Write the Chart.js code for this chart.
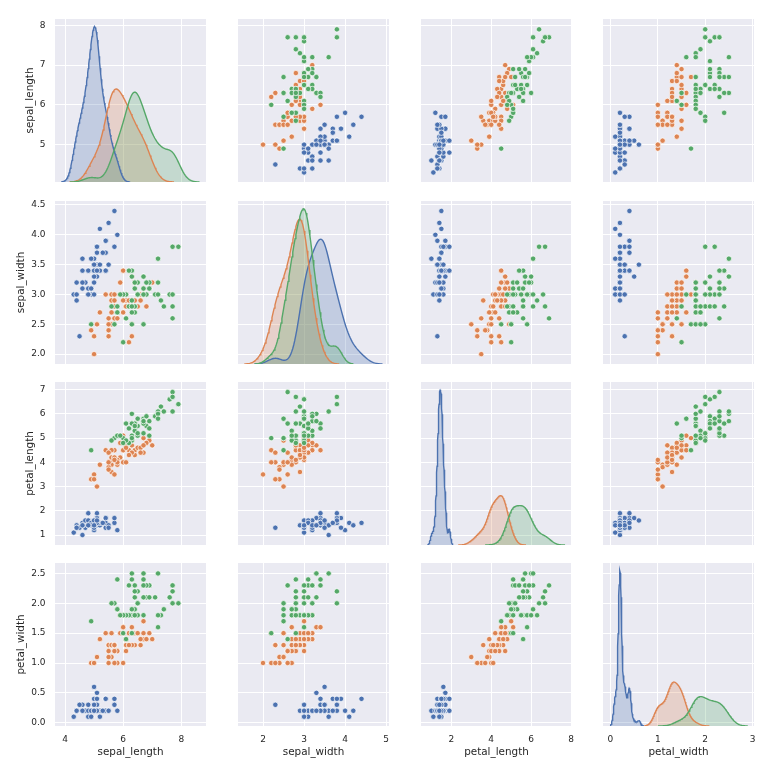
<!DOCTYPE html>
<html>
<head>
<meta charset="utf-8">
<script src="https://cdn.jsdelivr.net/npm/chart.js@4.4.1/dist/chart.umd.min.js"></script>
<style>
  body { margin: 0; background: #fff; }
  #fig { position: relative; width: 764px; height: 781px; overflow: hidden; background: #fff; }
  #fig canvas { position: absolute; }
</style>
</head>
<body>
<div id="fig"></div>
<script>
// iris measurements, one array per species and variable
const setosa_sepal_length = [5.1,4.9,4.7,4.6,5.0,5.4,4.6,5.0,4.4,4.9,5.4,4.8,4.8,4.3,5.8,5.7,5.4,5.1,5.7,5.1,5.4,5.1,4.6,5.1,4.8,5.0,5.0,5.2,5.2,4.7,4.8,5.4,5.2,5.5,4.9,5.0,5.5,4.9,4.4,5.1,5.0,4.5,4.4,5.0,5.1,4.8,5.1,4.6,5.3,5.0];
const setosa_sepal_width  = [3.5,3.0,3.2,3.1,3.6,3.9,3.4,3.4,2.9,3.1,3.7,3.4,3.0,3.0,4.0,4.4,3.9,3.5,3.8,3.8,3.4,3.7,3.6,3.3,3.4,3.0,3.4,3.5,3.4,3.2,3.1,3.4,4.1,4.2,3.1,3.2,3.5,3.6,3.0,3.4,3.5,2.3,3.2,3.5,3.8,3.0,3.8,3.2,3.7,3.3];
const setosa_petal_length = [1.4,1.4,1.3,1.5,1.4,1.7,1.4,1.5,1.4,1.5,1.5,1.6,1.4,1.1,1.2,1.5,1.3,1.4,1.7,1.5,1.7,1.5,1.0,1.7,1.9,1.6,1.6,1.5,1.4,1.6,1.6,1.5,1.5,1.4,1.5,1.2,1.3,1.4,1.3,1.5,1.3,1.3,1.3,1.6,1.9,1.4,1.6,1.4,1.5,1.4];
const setosa_petal_width  = [0.2,0.2,0.2,0.2,0.2,0.4,0.3,0.2,0.2,0.1,0.2,0.2,0.1,0.1,0.2,0.4,0.4,0.3,0.3,0.3,0.2,0.4,0.2,0.5,0.2,0.2,0.4,0.2,0.2,0.2,0.2,0.4,0.1,0.2,0.2,0.2,0.2,0.1,0.2,0.2,0.3,0.3,0.2,0.6,0.4,0.3,0.2,0.2,0.2,0.2];

const versicolor_sepal_length = [7.0,6.4,6.9,5.5,6.5,5.7,6.3,4.9,6.6,5.2,5.0,5.9,6.0,6.1,5.6,6.7,5.6,5.8,6.2,5.6,5.9,6.1,6.3,6.1,6.4,6.6,6.8,6.7,6.0,5.7,5.5,5.5,5.8,6.0,5.4,6.0,6.7,6.3,5.6,5.5,5.5,6.1,5.8,5.0,5.6,5.7,5.7,6.2,5.1,5.7];
const versicolor_sepal_width  = [3.2,3.2,3.1,2.3,2.8,2.8,3.3,2.4,2.9,2.7,2.0,3.0,2.2,2.9,2.9,3.1,3.0,2.7,2.2,2.5,3.2,2.8,2.5,2.8,2.9,3.0,2.8,3.0,2.9,2.6,2.4,2.4,2.7,2.7,3.0,3.4,3.1,2.3,3.0,2.5,2.6,3.0,2.6,2.3,2.7,3.0,2.9,2.9,2.5,2.8];
const versicolor_petal_length = [4.7,4.5,4.9,4.0,4.6,4.5,4.7,3.3,4.6,3.9,3.5,4.2,4.0,4.7,3.6,4.4,4.5,4.1,4.5,3.9,4.8,4.0,4.9,4.7,4.3,4.4,4.8,5.0,4.5,3.5,3.8,3.7,3.9,5.1,4.5,4.5,4.7,4.4,4.1,4.0,4.4,4.6,4.0,3.3,4.2,4.2,4.2,4.3,3.0,4.1];
const versicolor_petal_width  = [1.4,1.5,1.5,1.3,1.5,1.3,1.6,1.0,1.3,1.4,1.0,1.5,1.0,1.4,1.3,1.4,1.5,1.0,1.5,1.1,1.8,1.3,1.5,1.2,1.3,1.4,1.4,1.7,1.5,1.0,1.1,1.0,1.2,1.6,1.5,1.6,1.5,1.3,1.3,1.3,1.2,1.4,1.2,1.0,1.3,1.2,1.3,1.3,1.1,1.3];

const virginica_sepal_length = [6.3,5.8,7.1,6.3,6.5,7.6,4.9,7.3,6.7,7.2,6.5,6.4,6.8,5.7,5.8,6.4,6.5,7.7,7.7,6.0,6.9,5.6,7.7,6.3,6.7,7.2,6.2,6.1,6.4,7.2,7.4,7.9,6.4,6.3,6.1,7.7,6.3,6.4,6.0,6.9,6.7,6.9,5.8,6.8,6.7,6.7,6.3,6.5,6.2,5.9];
const virginica_sepal_width  = [3.3,2.7,3.0,2.9,3.0,3.0,2.5,2.9,2.5,3.6,3.2,2.7,3.0,2.5,2.8,3.2,3.0,3.8,2.6,2.2,3.2,2.8,2.8,2.7,3.3,3.2,2.8,3.0,2.8,3.0,2.8,3.8,2.8,2.8,2.6,3.0,3.4,3.1,3.0,3.1,3.1,3.1,2.7,3.2,3.3,3.0,2.5,3.0,3.4,3.0];
const virginica_petal_length = [6.0,5.1,5.9,5.6,5.8,6.6,4.5,6.3,5.8,6.1,5.1,5.3,5.5,5.0,5.1,5.3,5.5,6.7,6.9,5.0,5.7,4.9,6.7,4.9,5.7,6.0,4.8,4.9,5.6,5.8,6.1,6.4,5.6,5.1,5.6,6.1,5.6,5.5,4.8,5.4,5.6,5.1,5.1,5.9,5.7,5.2,5.0,5.2,5.4,5.1];
const virginica_petal_width  = [2.5,1.9,2.1,1.8,2.2,2.1,1.7,1.8,1.8,2.5,2.0,1.9,2.1,2.0,2.4,2.3,1.8,2.2,2.3,1.5,2.3,2.0,2.0,1.8,2.1,1.8,1.8,1.8,2.1,1.6,1.9,2.0,2.2,1.5,1.4,2.3,2.4,1.8,1.8,2.1,2.4,2.3,1.9,2.3,2.5,2.3,1.9,2.0,2.3,1.8];

const species = ['setosa', 'versicolor', 'virginica'];
const variables = ['sepal_length', 'sepal_width', 'petal_length', 'petal_width'];

// tick labels
const sepalLengthTicksX = [4, 6, 8];
const sepalWidthTicksX = [2, 3, 4, 5];
const petalLengthTicksX = [2, 4, 6, 8];
const petalWidthTicksX = [0, 1, 2, 3];
const sepalLengthTicksY = [5, 6, 7, 8];
const sepalWidthTicksY = [2.0, 2.5, 3.0, 3.5, 4.0, 4.5];
const petalLengthTicksY = [1, 2, 3, 4, 5, 6, 7];
const petalWidthTicksY = [0.0, 0.5, 1.0, 1.5, 2.0, 2.5];

const columns = {
  sepal_length: [setosa_sepal_length, versicolor_sepal_length, virginica_sepal_length],
  sepal_width: [setosa_sepal_width, versicolor_sepal_width, virginica_sepal_width],
  petal_length: [setosa_petal_length, versicolor_petal_length, virginica_petal_length],
  petal_width: [setosa_petal_width, versicolor_petal_width, virginica_petal_width]
};
const xTicks = { sepal_length: sepalLengthTicksX, sepal_width: sepalWidthTicksX, petal_length: petalLengthTicksX, petal_width: petalWidthTicksX };
const yTicks = { sepal_length: sepalLengthTicksY, sepal_width: sepalWidthTicksY, petal_length: petalLengthTicksY, petal_width: petalWidthTicksY };
const yDecimals = { sepal_length: 0, sepal_width: 1, petal_length: 0, petal_width: 1 };

// axis limits (shared by column for x, by row for y)
const xLimits = { sepal_length: [3.656, 8.85], sepal_width: [1.39, 5.07], petal_length: [0.48, 8.05], petal_width: [-0.158, 3.03] };
const yLimits = { sepal_length: [4.06, 8.16], sepal_width: [1.835, 4.567], petal_length: [0.588, 7.315], petal_width: [-0.055, 2.675] };

// layout of the grid
const colLeft = [55, 238, 421, 603];
const rowTop = [19, 201, 382, 563];
const cellW = 151, cellH = 163;
const yTitlePad = [24, 15, 24.5, 15];

const palette = ['#4C72B0', '#DD8452', '#55A868'];
const shade = ['rgba(76,114,176,0.25)', 'rgba(221,132,82,0.25)', 'rgba(85,168,104,0.25)'];
const textColor = '#262626';

Chart.defaults.font.family = "'DejaVu Sans', sans-serif";
Chart.defaults.color = textColor;

// gaussian kde with the statsmodels "scott" bandwidth, cut = 3
function kdeCurve(values) {
  const n = values.length;
  const sorted = [...values].sort((a, b) => a - b);
  const mean = values.reduce((s, v) => s + v, 0) / n;
  const sd = Math.sqrt(values.reduce((s, v) => s + (v - mean) ** 2, 0) / (n - 1));
  const pct = p => {
    const idx = (n - 1) * p;
    const lo = Math.floor(idx), hi = Math.ceil(idx);
    return sorted[lo] + (sorted[hi] - sorted[lo]) * (idx - lo);
  };
  const spread = Math.min(sd, (pct(0.75) - pct(0.25)) / 1.349);
  const bw = 1.059 * spread * Math.pow(n, -0.2);
  const lo = sorted[0] - 3 * bw, hi = sorted[n - 1] + 3 * bw;
  const pts = [];
  const gridsize = 128;
  for (let i = 0; i < gridsize; i++) {
    const x = lo + (hi - lo) * i / (gridsize - 1);
    let d = 0;
    for (const v of values) {
      const u = (x - v) / bw;
      d += Math.exp(-0.5 * u * u);
    }
    pts.push({ x, y: d / (n * bw * Math.sqrt(2 * Math.PI)) });
  }
  return pts;
}

const plotBackground = {
  id: 'plotBackground',
  beforeDraw(chart) {
    const { ctx, chartArea: a } = chart;
    ctx.save();
    ctx.fillStyle = '#EAEAF2';
    ctx.fillRect(a.left, a.top, a.right - a.left, a.bottom - a.top);
    ctx.restore();
  }
};

const fig = document.getElementById('fig');

function makeCell(r, c) {
  const xVar = variables[c], yVar = variables[r];
  // generous margins so label overhang never squeezes the plot area
  const padL = c === 0 ? 55 : 20, padR = 20, padT = 20, padB = r === 3 ? 45 : 20;
  const w = cellW + padL + padR, h = cellH + padT + padB;
  const canvas = document.createElement('canvas');
  canvas.width = w;
  canvas.height = h;
  canvas.style.left = (colLeft[c] - padL) + 'px';
  canvas.style.top = (rowTop[r] - padT) + 'px';
  canvas.style.width = w + 'px';
  canvas.style.height = h + 'px';
  fig.appendChild(canvas);

  let datasets;
  const scales = {
    x: {
      type: 'linear',
      position: 'bottom',
      min: xLimits[xVar][0],
      max: xLimits[xVar][1],
      afterBuildTicks: s => { s.ticks = xTicks[xVar].map(v => ({ value: v })); },
      afterFit: s => { s.height = padB; },
      grid: { color: '#ffffff', lineWidth: 1, drawTicks: false },
      border: { display: false },
      ticks: {
        display: r === 3, padding: 8, autoSkip: false, maxRotation: 0,
        font: { size: 9 }, color: textColor,
        callback: v => String(v)
      },
      title: {
        display: r === 3, text: xVar, color: textColor,
        font: { size: 10.4 }, padding: { top: 0, bottom: 12.4 }
      }
    },
    y: {
      type: 'linear',
      position: 'left',
      min: yLimits[yVar][0],
      max: yLimits[yVar][1],
      afterBuildTicks: s => { s.ticks = yTicks[yVar].map(v => ({ value: v })); },
      afterFit: s => { s.width = padL; },
      grid: { color: '#ffffff', lineWidth: 1, drawTicks: false },
      border: { display: false },
      ticks: {
        display: c === 0, padding: 9.5, autoSkip: false,
        font: { size: 9 }, color: textColor,
        callback: v => Number(v).toFixed(yDecimals[yVar])
      },
      title: {
        display: c === 0, text: yVar, color: textColor,
        font: { size: 10.4 }, padding: { top: yTitlePad[r], bottom: 0 }
      }
    }
  };

  if (r === c) {
    const curves = columns[xVar].map(kdeCurve);
    const peak = Math.max(...curves.map(cv => Math.max(...cv.map(p => p.y))));
    scales.yk = { type: 'linear', position: 'right', display: false, min: 0, max: peak * 1.05, ticks: { display: false } };
    datasets = curves.map((cv, k) => ({
      label: species[k],
      data: cv,
      yAxisID: 'yk',
      showLine: true,
      fill: 'origin',
      borderColor: palette[k],
      backgroundColor: shade[k],
      borderWidth: 1.4,
      pointRadius: 0,
      tension: 0,
      order: 3 - k
    }));
  } else {
    datasets = species.map((s, k) => ({
      label: s,
      data: columns[xVar][k].map((x, i) => ({ x, y: columns[yVar][k][i] })),
      backgroundColor: palette[k],
      borderColor: '#ffffff',
      borderWidth: 0.7,
      pointRadius: 2.7,
      order: 3 - k
    }));
  }

  new Chart(canvas, {
    type: 'scatter',
    data: { datasets },
    options: {
      responsive: false,
      animation: false,
      events: [],
      layout: { autoPadding: false, padding: { left: 0, top: padT, right: padR, bottom: 0 } },
      plugins: {
        legend: { display: false },
        tooltip: { enabled: false },
        filler: { drawTime: 'beforeDatasetsDraw' }
      },
      scales
    },
    plugins: [plotBackground]
  });
}

for (let r = 0; r < 4; r++) {
  for (let c = 0; c < 4; c++) makeCell(r, c);
}
</script>
</body>
</html>
